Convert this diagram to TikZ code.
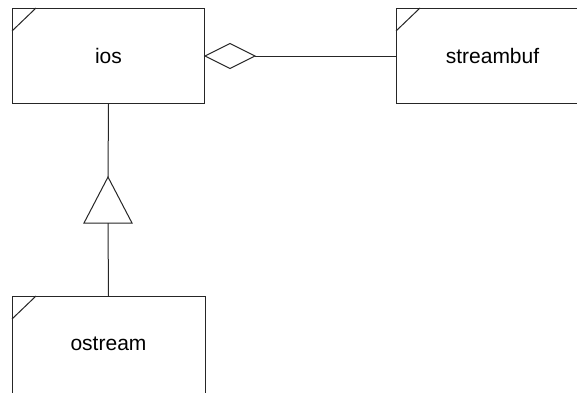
\documentclass[tikz,border=0pt]{standalone}
\usepackage{fontspec}
\setmainfont{Liberation Sans}
\begin{document}
\begin{tikzpicture}[x=1pt,y=-1pt,
  classbox/.style={draw=black!85,line width=1pt,fill=white,minimum width=192pt,minimum height=95pt,inner sep=0pt,
    font=\fontsize{21}{24}\selectfont,anchor=north west},
  conn/.style={draw=black!85,line width=1pt}]
\useasboundingbox (0,0) rectangle (577,392);
\clip (0,0) rectangle (577,392);
\node[classbox] (ios) at (12,8) {ios};
\node[classbox] (sb) at (396,8) {streambuf};
\node[classbox,draw=none] (os) at (12,296) {ostream};
\draw[conn] (os.north west) rectangle ([yshift=-10pt]os.south east);
\draw[conn] ([xshift=0pt,yshift=-23pt]ios.north west) -- ([xshift=24pt]ios.north west);
\draw[conn] ([yshift=-23pt]sb.north west) -- ([xshift=24pt]sb.north west);
\draw[conn] ([yshift=-23pt]os.north west) -- ([xshift=24pt]os.north west);
% aggregation diamond
\coordinate (d1) at (ios.east);
\coordinate (d2) at ([xshift=25pt,yshift=-12.5pt]ios.east);
\coordinate (d3) at ([xshift=50pt]ios.east);
\coordinate (d4) at ([xshift=25pt,yshift=12.5pt]ios.east);
\draw[conn,fill=white] (d1) -- (d2) -- (d3) -- (d4) -- cycle;
\draw[conn] (d3) -- (sb.west);
% generalization triangle
\coordinate (tA) at (108,177);
\coordinate (tL) at (84,223);
\coordinate (tR) at (132,223);
\coordinate (tB) at (108,223);
\draw[conn] (ios.south) -- (tA);
\draw[conn,fill=white] (tA) -- (tR) -- (tL) -- cycle;
\draw[conn] (tB) -- (os.north);
\end{tikzpicture}
\end{document}
